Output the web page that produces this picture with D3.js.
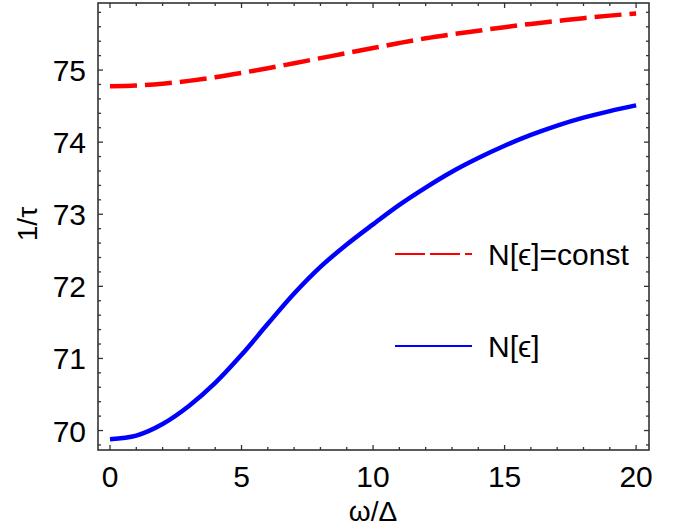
<!DOCTYPE html>
<html><head><meta charset="utf-8">
<script src="https://cdn.jsdelivr.net/npm/d3@7"></script>
<style>body{margin:0;background:#fff;} text{font-family:"Liberation Sans",Arial,sans-serif;fill:#000;}</style>
</head><body>
<svg id="c" width="678" height="529"></svg>
<script>
const omega = [0,1,2,3,4,5,6,7,8,9,10,11,12,13,14,15,16,17,18,19,20];
const constN = [74.775,74.785,74.81,74.85,74.90,74.96,75.025,75.095,75.165,75.235,75.305,75.375,75.44,75.495,75.545,75.595,75.64,75.68,75.72,75.755,75.785];
const varN = [69.88,69.93,70.09,70.34,70.66,71.05,71.48,71.90,72.27,72.58,72.86,73.13,73.37,73.59,73.78,73.95,74.10,74.23,74.34,74.43,74.51];
const xTicks = [0,5,10,15,20];
const yTicks = [70,71,72,73,74,75];
const seriesNames = ["N[\u03f5]=const","N[\u03f5]"];
const colors = ["#ff0000","#0000ff"];

const svg = d3.select("#c");
const L=98,R=649,T=3,B=450;
const x = d3.scaleLinear().domain([-0.456,20.49]).range([L,R]);
const y = d3.scaleLinear().domain([69.73,75.93]).range([B,T]);

const line = d3.line().x((d,i)=>x(omega[i])).y(d=>y(d)).curve(d3.curveMonotoneX);
svg.append("path").datum(constN).attr("d",line).attr("fill","none")
  .attr("stroke",colors[0]).attr("stroke-width",4.5).attr("stroke-dasharray","27,8");
svg.append("path").datum(varN).attr("d",line).attr("fill","none")
  .attr("stroke",colors[1]).attr("stroke-width",4.5);

// frame
svg.append("rect").attr("x",L).attr("y",T).attr("width",R-L).attr("height",B-T)
  .attr("fill","none").attr("stroke","#333").attr("stroke-width",1.6);

const xMinor = d3.range(0,21,1);
const yMinor = d3.range(69.8,75.91,0.2).map(v=>+v.toFixed(1));
const tk = svg.append("g").attr("stroke","#333").attr("stroke-width",1.3);
xMinor.forEach(v=>{
  const len = v%5===0?5:3;
  tk.append("line").attr("x1",x(v)).attr("x2",x(v)).attr("y1",B).attr("y2",B-len);
  tk.append("line").attr("x1",x(v)).attr("x2",x(v)).attr("y1",T).attr("y2",T+len);
});
yMinor.forEach(v=>{
  const len = Math.abs(v-Math.round(v))<1e-6?5:3;
  tk.append("line").attr("x1",L).attr("x2",L+len).attr("y1",y(v)).attr("y2",y(v));
  tk.append("line").attr("x1",R).attr("x2",R-len).attr("y1",y(v)).attr("y2",y(v));
});

svg.selectAll(".xl").data(xTicks).enter().append("text")
  .attr("x",d=>x(d)).attr("y",487).attr("text-anchor","middle")
  .attr("font-size",30).text(d=>d);
svg.selectAll(".yl").data(yTicks).enter().append("text")
  .attr("x",86).attr("y",d=>y(d)+11).attr("text-anchor","end")
  .attr("font-size",30).text(d=>d);

svg.append("text").attr("x",373).attr("y",521).attr("text-anchor","middle")
  .attr("font-size",28).text("\u03c9/\u0394");
svg.append("text").attr("transform","translate(37,224) rotate(-90)")
  .attr("text-anchor","middle").attr("font-size",28).text("1/\u03c4");

// legend
const leg = [{y:254},{y:346}];
leg.forEach((l,i)=>{
  svg.append("line").attr("x1",395).attr("x2",472).attr("y1",l.y).attr("y2",l.y)
    .attr("stroke",colors[i]).attr("stroke-width",2)
    .attr("stroke-dasharray",i===0?"30,5":null);
  svg.append("text").attr("x",488).attr("y",l.y+11).attr("font-size",30).text(seriesNames[i]);
});
</script>
</body></html>
